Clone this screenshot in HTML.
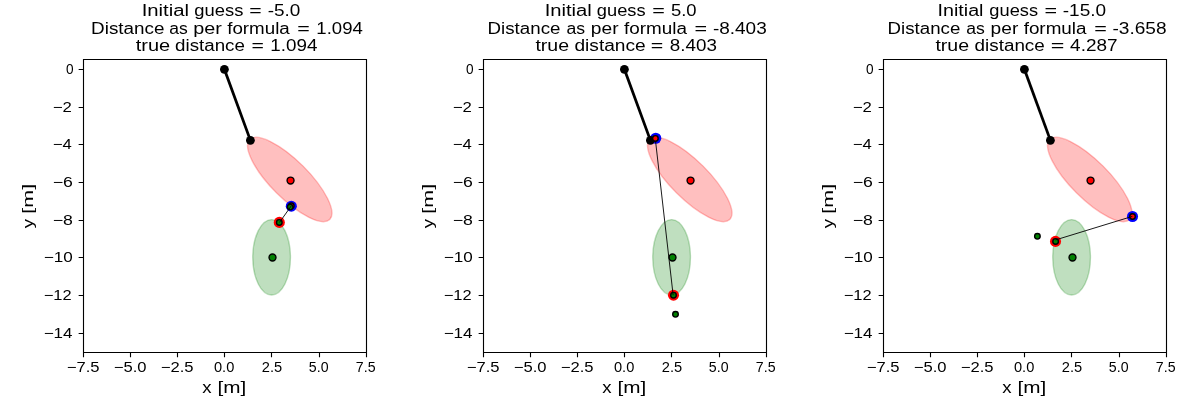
<!DOCTYPE html>
<html><head><meta charset="utf-8"><title>Pendulum distance plots</title>
<style>
html,body{margin:0;padding:0;background:#fff;}
svg{display:block;will-change:transform;}
text{font-family:"Liberation Sans",sans-serif;fill:#000;}
.er{fill:#ff0000;fill-opacity:.25;stroke:#ff0000;stroke-opacity:.25;stroke-width:1.39;}
.eg{fill:#008000;fill-opacity:.25;stroke:#008000;stroke-opacity:.25;stroke-width:1.39;}
.dr{fill:#ff0000;stroke:#000;stroke-width:1.39;}
.dg{fill:#008000;stroke:#000;stroke-width:1.39;}
.sr{fill:#ff0000;stroke:#000;stroke-width:1.39;}
.sg{fill:#008000;stroke:#000;stroke-width:1.39;}
.sp{fill:none;stroke:#000;stroke-width:1.11;stroke-linecap:butt;stroke-linejoin:miter;}
</style></head>
<body>
<svg width="1200" height="400" viewBox="0 0 1200 400">
<rect width="1200" height="400" fill="#fff"/>
<ellipse cx="289.75" cy="179.45" rx="56.54" ry="18.85" transform="rotate(45 289.75 179.45)" class="er"/>
<ellipse cx="271.6" cy="257.3" rx="18.85" ry="37.69" class="eg"/>
<circle cx="290.55" cy="180.55" r="3.47" class="dr"/>
<circle cx="272.5" cy="257.5" r="3.47" class="dg"/>
<circle cx="291.3" cy="206.2" r="5.55" fill="#0000ff"/>
<circle cx="279.3" cy="222.4" r="5.55" fill="#ff0000"/>
<line x1="224.4" y1="69.3" x2="250.4" y2="140.3" stroke="#000" stroke-width="2.78" stroke-linecap="square"/>
<circle cx="224.4" cy="69.3" r="4.4"/><circle cx="250.4" cy="140.3" r="4.4"/>
<circle cx="291.3" cy="205.8" r="2.78" class="sr"/>
<circle cx="290.2" cy="207.1" r="2.78" class="sg"/>
<circle cx="279.3" cy="222.4" r="2.78" class="sg"/>
<line x1="291.4" y1="205.7" x2="279.5" y2="222.4" stroke="#000" stroke-width="0.9"/>
<path d="M83.5 59.5H366.5V352.5H83.5Z" class="sp"/>
<path d="M83.5 352.5v4.86M130.5 352.5v4.86M177.5 352.5v4.86M224.5 352.5v4.86M271.5 352.5v4.86M319.5 352.5v4.86M366.5 352.5v4.86M83.5 69.5h-4.86M83.5 107.5h-4.86M83.5 144.5h-4.86M83.5 182.5h-4.86M83.5 220.5h-4.86M83.5 257.5h-4.86M83.5 295.5h-4.86M83.5 333.5h-4.86" class="sp"/>
<ellipse cx="689.75" cy="179.45" rx="56.54" ry="18.85" transform="rotate(45 689.75 179.45)" class="er"/>
<ellipse cx="671.6" cy="257.3" rx="18.85" ry="37.69" class="eg"/>
<circle cx="690.55" cy="180.55" r="3.47" class="dr"/>
<circle cx="672.5" cy="257.5" r="3.47" class="dg"/>
<circle cx="655.75" cy="138.25" r="5.55" fill="#0000ff"/>
<circle cx="673.5" cy="295.2" r="5.55" fill="#ff0000"/>
<line x1="624.4" y1="69.3" x2="650.4" y2="140.3" stroke="#000" stroke-width="2.78" stroke-linecap="square"/>
<circle cx="624.4" cy="69.3" r="4.4"/><circle cx="650.4" cy="140.3" r="4.4"/>
<circle cx="655.4" cy="138.4" r="2.78" class="sr"/>
<circle cx="673.5" cy="295.2" r="2.78" class="sg"/>
<circle cx="675.5" cy="314.3" r="2.78" class="sg"/>
<line x1="655.6" y1="141.5" x2="673.15" y2="295.2" stroke="#000" stroke-width="0.9"/>
<path d="M483.5 59.5H766.5V352.5H483.5Z" class="sp"/>
<path d="M483.5 352.5v4.86M530.5 352.5v4.86M577.5 352.5v4.86M624.5 352.5v4.86M671.5 352.5v4.86M719.5 352.5v4.86M766.5 352.5v4.86M483.5 69.5h-4.86M483.5 107.5h-4.86M483.5 144.5h-4.86M483.5 182.5h-4.86M483.5 220.5h-4.86M483.5 257.5h-4.86M483.5 295.5h-4.86M483.5 333.5h-4.86" class="sp"/>
<ellipse cx="1089.75" cy="179.45" rx="56.54" ry="18.85" transform="rotate(45 1089.75 179.45)" class="er"/>
<ellipse cx="1071.6" cy="257.3" rx="18.85" ry="37.69" class="eg"/>
<circle cx="1090.55" cy="180.55" r="3.47" class="dr"/>
<circle cx="1072.5" cy="257.5" r="3.47" class="dg"/>
<circle cx="1132.5" cy="216.5" r="5.55" fill="#0000ff"/>
<circle cx="1055.5" cy="241.4" r="5.55" fill="#ff0000"/>
<line x1="1024.4" y1="69.3" x2="1050.4" y2="140.3" stroke="#000" stroke-width="2.78" stroke-linecap="square"/>
<circle cx="1024.4" cy="69.3" r="4.4"/><circle cx="1050.4" cy="140.3" r="4.4"/>
<circle cx="1132.5" cy="216.5" r="2.78" class="sr"/>
<circle cx="1055.6" cy="241.4" r="2.78" class="sg"/>
<circle cx="1037.4" cy="236.3" r="2.78" class="sg"/>
<line x1="1132.3" y1="216.4" x2="1055.5" y2="239.94" stroke="#000" stroke-width="0.9"/>
<path d="M883.5 59.5H1166.5V352.5H883.5Z" class="sp"/>
<path d="M883.5 352.5v4.86M930.5 352.5v4.86M977.5 352.5v4.86M1024.5 352.5v4.86M1071.5 352.5v4.86M1119.5 352.5v4.86M1166.5 352.5v4.86M883.5 69.5h-4.86M883.5 107.5h-4.86M883.5 144.5h-4.86M883.5 182.5h-4.86M883.5 220.5h-4.86M883.5 257.5h-4.86M883.5 295.5h-4.86M883.5 333.5h-4.86" class="sp"/>
<text id="xt0_0" x="66.76" y="371.6" font-size="14.0" textLength="32.75" lengthAdjust="spacingAndGlyphs">−7.5</text>
<text id="xt0_1" x="113.76" y="371.6" font-size="14.0" textLength="32.75" lengthAdjust="spacingAndGlyphs">−5.0</text>
<text id="xt0_2" x="160.76" y="371.6" font-size="14.0" textLength="32.75" lengthAdjust="spacingAndGlyphs">−2.5</text>
<text id="xt0_3" x="213.96" y="371.6" font-size="14.0" textLength="20.33" lengthAdjust="spacingAndGlyphs">0.0</text>
<text id="xt0_4" x="261.86" y="371.6" font-size="14.0" textLength="20.35" lengthAdjust="spacingAndGlyphs">2.5</text>
<text id="xt0_5" x="308.89" y="371.6" font-size="14.0" textLength="19.69" lengthAdjust="spacingAndGlyphs">5.0</text>
<text id="xt0_6" x="355.89" y="371.6" font-size="14.0" textLength="19.69" lengthAdjust="spacingAndGlyphs">7.5</text>
<text id="yt0_0" x="65.89" y="73.9" font-size="14.0" textLength="7.60" lengthAdjust="spacingAndGlyphs">0</text>
<text id="yt0_1" x="52.70" y="111.9" font-size="14.0" textLength="19.09" lengthAdjust="spacingAndGlyphs">−2</text>
<text id="yt0_2" x="52.75" y="148.9" font-size="14.0" textLength="18.96" lengthAdjust="spacingAndGlyphs">−4</text>
<text id="yt0_3" x="52.66" y="186.9" font-size="14.0" textLength="20.14" lengthAdjust="spacingAndGlyphs">−6</text>
<text id="yt0_4" x="52.66" y="224.9" font-size="14.0" textLength="20.14" lengthAdjust="spacingAndGlyphs">−8</text>
<text id="yt0_5" x="43.74" y="261.9" font-size="14.0" textLength="28.94" lengthAdjust="spacingAndGlyphs">−10</text>
<text id="yt0_6" x="43.77" y="299.9" font-size="14.0" textLength="27.86" lengthAdjust="spacingAndGlyphs">−12</text>
<text id="yt0_7" x="43.71" y="337.9" font-size="14.0" textLength="28.79" lengthAdjust="spacingAndGlyphs">−14</text>
<text id="xl0_0" x="202.38" y="392.9" font-size="16.6" textLength="9.31" lengthAdjust="spacingAndGlyphs">x</text>
<text id="xl0_1" x="217.60" y="392.9" font-size="16.6" textLength="28.78" lengthAdjust="spacingAndGlyphs">[m]</text>
<text id="yl0_0" x="0" y="0" font-size="15.4" transform="translate(33.1 228.33) rotate(-90)" textLength="9.39" lengthAdjust="spacingAndGlyphs">y</text>
<text id="yl0_1" x="0" y="0" font-size="15.4" transform="translate(33.1 213.63) rotate(-90)" textLength="29.86" lengthAdjust="spacingAndGlyphs">[m]</text>
<text id="ti0_0_0" x="141.65" y="16.1" font-size="17.3" textLength="47.49" lengthAdjust="spacingAndGlyphs">Initial</text>
<text id="ti0_0_1" x="194.30" y="16.1" font-size="17.3" textLength="49.11" lengthAdjust="spacingAndGlyphs">guess</text>
<text id="ti0_0_2" x="249.31" y="16.1" font-size="17.3" textLength="12.41" lengthAdjust="spacingAndGlyphs">=</text>
<text id="ti0_0_3" x="267.74" y="16.1" font-size="17.3" textLength="32.66" lengthAdjust="spacingAndGlyphs">-5.0</text>
<text id="ti0_1_0" x="91.13" y="33.9" font-size="17.3" textLength="73.39" lengthAdjust="spacingAndGlyphs">Distance</text>
<text id="ti0_1_1" x="169.22" y="33.9" font-size="17.3" textLength="18.50" lengthAdjust="spacingAndGlyphs">as</text>
<text id="ti0_1_2" x="193.31" y="33.9" font-size="17.3" textLength="28.61" lengthAdjust="spacingAndGlyphs">per</text>
<text id="ti0_1_3" x="227.19" y="33.9" font-size="17.3" textLength="62.54" lengthAdjust="spacingAndGlyphs">formula</text>
<text id="ti0_1_4" x="297.15" y="33.9" font-size="17.3" textLength="12.52" lengthAdjust="spacingAndGlyphs">=</text>
<text id="ti0_1_5" x="316.32" y="33.9" font-size="17.3" textLength="46.48" lengthAdjust="spacingAndGlyphs">1.094</text>
<text id="ti0_2_0" x="135.68" y="50.8" font-size="17.3" textLength="34.44" lengthAdjust="spacingAndGlyphs">true</text>
<text id="ti0_2_1" x="175.09" y="50.8" font-size="17.3" textLength="69.77" lengthAdjust="spacingAndGlyphs">distance</text>
<text id="ti0_2_2" x="251.54" y="50.8" font-size="17.3" textLength="12.40" lengthAdjust="spacingAndGlyphs">=</text>
<text id="ti0_2_3" x="270.38" y="50.8" font-size="17.3" textLength="47.04" lengthAdjust="spacingAndGlyphs">1.094</text>
<text id="xt1_0" x="466.76" y="371.6" font-size="14.0" textLength="32.75" lengthAdjust="spacingAndGlyphs">−7.5</text>
<text id="xt1_1" x="513.76" y="371.6" font-size="14.0" textLength="32.75" lengthAdjust="spacingAndGlyphs">−5.0</text>
<text id="xt1_2" x="560.76" y="371.6" font-size="14.0" textLength="32.75" lengthAdjust="spacingAndGlyphs">−2.5</text>
<text id="xt1_3" x="613.96" y="371.6" font-size="14.0" textLength="20.33" lengthAdjust="spacingAndGlyphs">0.0</text>
<text id="xt1_4" x="661.86" y="371.6" font-size="14.0" textLength="20.35" lengthAdjust="spacingAndGlyphs">2.5</text>
<text id="xt1_5" x="708.89" y="371.6" font-size="14.0" textLength="19.69" lengthAdjust="spacingAndGlyphs">5.0</text>
<text id="xt1_6" x="755.89" y="371.6" font-size="14.0" textLength="19.69" lengthAdjust="spacingAndGlyphs">7.5</text>
<text id="yt1_0" x="465.89" y="73.9" font-size="14.0" textLength="7.60" lengthAdjust="spacingAndGlyphs">0</text>
<text id="yt1_1" x="452.70" y="111.9" font-size="14.0" textLength="19.09" lengthAdjust="spacingAndGlyphs">−2</text>
<text id="yt1_2" x="452.75" y="148.9" font-size="14.0" textLength="18.96" lengthAdjust="spacingAndGlyphs">−4</text>
<text id="yt1_3" x="452.66" y="186.9" font-size="14.0" textLength="20.14" lengthAdjust="spacingAndGlyphs">−6</text>
<text id="yt1_4" x="452.66" y="224.9" font-size="14.0" textLength="20.14" lengthAdjust="spacingAndGlyphs">−8</text>
<text id="yt1_5" x="443.74" y="261.9" font-size="14.0" textLength="28.94" lengthAdjust="spacingAndGlyphs">−10</text>
<text id="yt1_6" x="443.77" y="299.9" font-size="14.0" textLength="27.86" lengthAdjust="spacingAndGlyphs">−12</text>
<text id="yt1_7" x="443.71" y="337.9" font-size="14.0" textLength="28.79" lengthAdjust="spacingAndGlyphs">−14</text>
<text id="xl1_0" x="602.38" y="392.9" font-size="16.6" textLength="9.31" lengthAdjust="spacingAndGlyphs">x</text>
<text id="xl1_1" x="617.60" y="392.9" font-size="16.6" textLength="28.78" lengthAdjust="spacingAndGlyphs">[m]</text>
<text id="yl1_0" x="0" y="0" font-size="15.4" transform="translate(433.1 228.33) rotate(-90)" textLength="9.39" lengthAdjust="spacingAndGlyphs">y</text>
<text id="yl1_1" x="0" y="0" font-size="15.4" transform="translate(433.1 213.63) rotate(-90)" textLength="29.86" lengthAdjust="spacingAndGlyphs">[m]</text>
<text id="ti1_0_0" x="544.66" y="16.1" font-size="17.3" textLength="47.18" lengthAdjust="spacingAndGlyphs">Initial</text>
<text id="ti1_0_1" x="596.80" y="16.1" font-size="17.3" textLength="48.79" lengthAdjust="spacingAndGlyphs">guess</text>
<text id="ti1_0_2" x="652.19" y="16.1" font-size="17.3" textLength="12.61" lengthAdjust="spacingAndGlyphs">=</text>
<text id="ti1_0_3" x="670.98" y="16.1" font-size="17.3" textLength="25.66" lengthAdjust="spacingAndGlyphs">5.0</text>
<text id="ti1_1_0" x="487.60" y="33.9" font-size="17.3" textLength="72.82" lengthAdjust="spacingAndGlyphs">Distance</text>
<text id="ti1_1_1" x="566.46" y="33.9" font-size="17.3" textLength="18.62" lengthAdjust="spacingAndGlyphs">as</text>
<text id="ti1_1_2" x="590.84" y="33.9" font-size="17.3" textLength="27.69" lengthAdjust="spacingAndGlyphs">per</text>
<text id="ti1_1_3" x="623.97" y="33.9" font-size="17.3" textLength="62.94" lengthAdjust="spacingAndGlyphs">formula</text>
<text id="ti1_1_4" x="694.64" y="33.9" font-size="17.3" textLength="12.60" lengthAdjust="spacingAndGlyphs">=</text>
<text id="ti1_1_5" x="712.90" y="33.9" font-size="17.3" textLength="53.86" lengthAdjust="spacingAndGlyphs">-8.403</text>
<text id="ti1_2_0" x="535.43" y="50.8" font-size="17.3" textLength="33.67" lengthAdjust="spacingAndGlyphs">true</text>
<text id="ti1_2_1" x="574.45" y="50.8" font-size="17.3" textLength="71.27" lengthAdjust="spacingAndGlyphs">distance</text>
<text id="ti1_2_2" x="650.86" y="50.8" font-size="17.3" textLength="12.50" lengthAdjust="spacingAndGlyphs">=</text>
<text id="ti1_2_3" x="669.82" y="50.8" font-size="17.3" textLength="47.02" lengthAdjust="spacingAndGlyphs">8.403</text>
<text id="xt2_0" x="866.76" y="371.6" font-size="14.0" textLength="32.75" lengthAdjust="spacingAndGlyphs">−7.5</text>
<text id="xt2_1" x="913.76" y="371.6" font-size="14.0" textLength="32.75" lengthAdjust="spacingAndGlyphs">−5.0</text>
<text id="xt2_2" x="960.76" y="371.6" font-size="14.0" textLength="32.75" lengthAdjust="spacingAndGlyphs">−2.5</text>
<text id="xt2_3" x="1013.96" y="371.6" font-size="14.0" textLength="20.33" lengthAdjust="spacingAndGlyphs">0.0</text>
<text id="xt2_4" x="1061.86" y="371.6" font-size="14.0" textLength="20.35" lengthAdjust="spacingAndGlyphs">2.5</text>
<text id="xt2_5" x="1108.89" y="371.6" font-size="14.0" textLength="19.69" lengthAdjust="spacingAndGlyphs">5.0</text>
<text id="xt2_6" x="1155.89" y="371.6" font-size="14.0" textLength="19.69" lengthAdjust="spacingAndGlyphs">7.5</text>
<text id="yt2_0" x="865.89" y="73.9" font-size="14.0" textLength="7.60" lengthAdjust="spacingAndGlyphs">0</text>
<text id="yt2_1" x="852.70" y="111.9" font-size="14.0" textLength="19.09" lengthAdjust="spacingAndGlyphs">−2</text>
<text id="yt2_2" x="852.75" y="148.9" font-size="14.0" textLength="18.96" lengthAdjust="spacingAndGlyphs">−4</text>
<text id="yt2_3" x="852.66" y="186.9" font-size="14.0" textLength="20.14" lengthAdjust="spacingAndGlyphs">−6</text>
<text id="yt2_4" x="852.66" y="224.9" font-size="14.0" textLength="20.14" lengthAdjust="spacingAndGlyphs">−8</text>
<text id="yt2_5" x="843.74" y="261.9" font-size="14.0" textLength="28.94" lengthAdjust="spacingAndGlyphs">−10</text>
<text id="yt2_6" x="843.77" y="299.9" font-size="14.0" textLength="27.86" lengthAdjust="spacingAndGlyphs">−12</text>
<text id="yt2_7" x="843.71" y="337.9" font-size="14.0" textLength="28.79" lengthAdjust="spacingAndGlyphs">−14</text>
<text id="xl2_0" x="1002.38" y="392.9" font-size="16.6" textLength="9.31" lengthAdjust="spacingAndGlyphs">x</text>
<text id="xl2_1" x="1017.60" y="392.9" font-size="16.6" textLength="28.78" lengthAdjust="spacingAndGlyphs">[m]</text>
<text id="yl2_0" x="0" y="0" font-size="15.4" transform="translate(833.1 228.33) rotate(-90)" textLength="9.39" lengthAdjust="spacingAndGlyphs">y</text>
<text id="yl2_1" x="0" y="0" font-size="15.4" transform="translate(833.1 213.63) rotate(-90)" textLength="29.86" lengthAdjust="spacingAndGlyphs">[m]</text>
<text id="ti2_0_0" x="937.50" y="16.1" font-size="17.3" textLength="46.00" lengthAdjust="spacingAndGlyphs">Initial</text>
<text id="ti2_0_1" x="989.38" y="16.1" font-size="17.3" textLength="48.67" lengthAdjust="spacingAndGlyphs">guess</text>
<text id="ti2_0_2" x="1044.58" y="16.1" font-size="17.3" textLength="12.58" lengthAdjust="spacingAndGlyphs">=</text>
<text id="ti2_0_3" x="1062.78" y="16.1" font-size="17.3" textLength="43.36" lengthAdjust="spacingAndGlyphs">-15.0</text>
<text id="ti2_1_0" x="887.61" y="33.9" font-size="17.3" textLength="72.71" lengthAdjust="spacingAndGlyphs">Distance</text>
<text id="ti2_1_1" x="966.30" y="33.9" font-size="17.3" textLength="18.59" lengthAdjust="spacingAndGlyphs">as</text>
<text id="ti2_1_2" x="990.62" y="33.9" font-size="17.3" textLength="27.65" lengthAdjust="spacingAndGlyphs">per</text>
<text id="ti2_1_3" x="1023.67" y="33.9" font-size="17.3" textLength="62.85" lengthAdjust="spacingAndGlyphs">formula</text>
<text id="ti2_1_4" x="1094.17" y="33.9" font-size="17.3" textLength="12.59" lengthAdjust="spacingAndGlyphs">=</text>
<text id="ti2_1_5" x="1112.49" y="33.9" font-size="17.3" textLength="54.10" lengthAdjust="spacingAndGlyphs">-3.658</text>
<text id="ti2_2_0" x="935.43" y="50.8" font-size="17.3" textLength="33.71" lengthAdjust="spacingAndGlyphs">true</text>
<text id="ti2_2_1" x="974.53" y="50.8" font-size="17.3" textLength="70.30" lengthAdjust="spacingAndGlyphs">distance</text>
<text id="ti2_2_2" x="1050.84" y="50.8" font-size="17.3" textLength="13.60" lengthAdjust="spacingAndGlyphs">=</text>
<text id="ti2_2_3" x="1070.13" y="50.8" font-size="17.3" textLength="47.44" lengthAdjust="spacingAndGlyphs">4.287</text>
</svg>
</body></html>
